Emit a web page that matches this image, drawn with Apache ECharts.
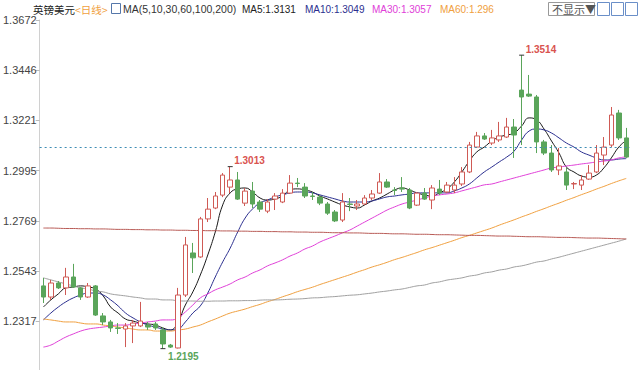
<!DOCTYPE html>
<html><head><meta charset="utf-8">
<script src="https://cdn.jsdelivr.net/npm/echarts@6/dist/echarts.min.js"></script>
<style>html,body{margin:0;padding:0;background:#fff}#c{width:640px;height:370px}</style>
</head><body><div id="c"></div>
<script>
// ---- data ----
const categories = Array.from({length: 79}, (_, i) => 'D' + (i + 1));
const opens = [1.2477,1.2427,1.2490,1.2468,1.2517,1.2468,1.2427,1.2477,1.2342,1.2315,
1.2288,1.2283,1.2297,1.2297,1.2301,1.2306,1.2279,1.2211,1.2198,1.2436,
1.2625,1.2607,1.2778,1.2827,1.2885,1.2921,1.2953,1.2849,1.2903,1.2854,
1.2813,1.2867,1.2854,1.2894,1.2939,1.2921,1.2881,1.2876,1.2845,1.2809,
1.2773,1.2845,1.2836,1.2845,1.2872,1.2894,1.2944,1.2908,1.2917,1.2908,
1.2840,1.2894,1.2863,1.2912,1.2899,1.2908,1.2935,1.2989,1.3101,1.3151,
1.3119,1.3133,1.3146,1.3191,1.3357,1.3339,1.3326,1.3124,1.3074,1.2998,
1.2989,1.2935,1.2930,1.2957,1.2989,1.3065,1.3110,1.3254,1.3142];
const closes = [1.2427,1.2490,1.2468,1.2517,1.2472,1.2427,1.2477,1.2346,1.2315,1.2288,
1.2286,1.2297,1.2310,1.2319,1.2292,1.2288,1.2216,1.2202,1.2436,1.2661,
1.2603,1.2778,1.2822,1.2881,1.2975,1.2953,1.2867,1.2903,1.2845,1.2822,
1.2854,1.2881,1.2894,1.2939,1.2937,1.2881,1.2879,1.2849,1.2804,1.2769,
1.2854,1.2843,1.2845,1.2872,1.2890,1.2944,1.2921,1.2906,1.2912,1.2827,
1.2894,1.2867,1.2917,1.2894,1.2930,1.2930,1.2989,1.3110,1.3151,1.3137,
1.3142,1.3151,1.3191,1.3155,1.3326,1.3330,1.3124,1.3074,1.2998,1.3016,
1.2930,1.2937,1.2953,1.2984,1.3074,1.3101,1.3245,1.3142,1.3056];
const lows = [1.2400,1.2414,1.2463,1.2436,1.2468,1.2414,1.2423,1.2342,1.2301,1.2270,
1.2261,1.2202,1.2220,1.2292,1.2279,1.2279,1.2195,1.2198,1.2196,1.2427,
1.2535,1.2603,1.2764,1.2822,1.2876,1.2894,1.2863,1.2836,1.2827,1.2809,
1.2804,1.2818,1.2849,1.2890,1.2921,1.2872,1.2863,1.2840,1.2796,1.2764,
1.2764,1.2813,1.2818,1.2840,1.2863,1.2890,1.2917,1.2885,1.2899,1.2822,
1.2836,1.2863,1.2822,1.2885,1.2894,1.2894,1.2926,1.2984,1.3097,1.3133,
1.3110,1.3124,1.3142,1.3052,1.3110,1.3326,1.3074,1.3065,1.2989,1.2975,
1.2908,1.2912,1.2908,1.2953,1.2984,1.3020,1.3101,1.3133,1.3052];
const highs = [1.2513,1.2504,1.2499,1.2558,1.2576,1.2472,1.2490,1.2481,1.2355,1.2324,
1.2310,1.2310,1.2324,1.2405,1.2315,1.2315,1.2292,1.2216,1.2468,1.2697,
1.2670,1.2787,1.2872,1.2899,1.2984,1.3013,1.2989,1.2917,1.2944,1.2863,
1.2867,1.2894,1.2912,1.2975,1.2962,1.2939,1.2899,1.2885,1.2854,1.2818,
1.2894,1.2872,1.2863,1.2885,1.2908,1.2984,1.2957,1.2921,1.2966,1.2917,
1.2899,1.2917,1.2930,1.2953,1.2944,1.2966,1.3011,1.3124,1.3169,1.3164,
1.3178,1.3214,1.3232,1.3227,1.3514,1.3425,1.3335,1.3133,1.3110,1.3097,
1.3007,1.2944,1.2975,1.3020,1.3110,1.3146,1.3281,1.3268,1.3187];
const ma5 = [1.2382,1.2414,1.2441,1.2468,1.2472,1.2477,1.2472,1.2463,1.2432,1.2382,
1.2355,1.2328,1.2319,1.2310,1.2306,1.2301,1.2288,1.2279,1.2315,1.2391,
1.2450,1.2526,1.2616,1.2719,1.2841,1.2895,1.2913,1.2917,1.2899,1.2872,
1.2863,1.2868,1.2881,1.2908,1.2913,1.2908,1.2899,1.2881,1.2868,1.2854,
1.2841,1.2832,1.2827,1.2841,1.2859,1.2872,1.2890,1.2908,1.2917,1.2908,
1.2895,1.2886,1.2881,1.2895,1.2913,1.2944,1.2989,1.3038,1.3079,1.3101,
1.3128,1.3146,1.3155,1.3164,1.3196,1.3232,1.3223,1.3182,1.3128,1.3074,
1.3011,1.2989,1.2971,1.2966,1.2975,1.3007,1.3052,1.3101,1.3131];
const ma10 = [1.2324,1.2355,1.2382,1.2405,1.2423,1.2436,1.2445,1.2445,1.2436,1.2414,
1.2387,1.2355,1.2333,1.2315,1.2301,1.2292,1.2283,1.2279,1.2283,1.2315,
1.2355,1.2387,1.2445,1.2517,1.2585,1.2647,1.2719,1.2782,1.2823,1.2850,
1.2863,1.2877,1.2886,1.2895,1.2899,1.2899,1.2895,1.2886,1.2877,1.2868,
1.2859,1.2854,1.2854,1.2854,1.2859,1.2868,1.2877,1.2881,1.2886,1.2890,
1.2895,1.2895,1.2895,1.2895,1.2895,1.2904,1.2917,1.2935,1.2962,1.2989,
1.3011,1.3034,1.3056,1.3083,1.3133,1.3173,1.3182,1.3178,1.3164,1.3142,
1.3119,1.3101,1.3079,1.3065,1.3052,1.3043,1.3043,1.3047,1.3049];
const ma30 = [1.2202,1.2211,1.2229,1.2247,1.2261,1.2274,1.2283,1.2288,1.2292,1.2297,
1.2301,1.2301,1.2306,1.2310,1.2315,1.2319,1.2324,1.2324,1.2333,1.2360,
1.2391,1.2423,1.2441,1.2459,1.2472,1.2486,1.2504,1.2517,1.2535,1.2549,
1.2567,1.2580,1.2594,1.2611,1.2625,1.2643,1.2656,1.2674,1.2688,1.2701,
1.2715,1.2728,1.2746,1.2764,1.2782,1.2800,1.2818,1.2832,1.2845,1.2854,
1.2863,1.2872,1.2881,1.2886,1.2890,1.2895,1.2904,1.2913,1.2922,1.2931,
1.2935,1.2944,1.2953,1.2962,1.2971,1.2980,1.2989,1.2998,1.3007,1.3011,
1.3016,1.3020,1.3025,1.3029,1.3034,1.3038,1.3043,1.3052,1.3057];
const ma60 = [1.2328,1.2324,1.2319,1.2315,1.2315,1.2310,1.2306,1.2306,1.2301,1.2297,
1.2292,1.2288,1.2283,1.2279,1.2279,1.2274,1.2274,1.2274,1.2279,1.2283,
1.2292,1.2301,1.2315,1.2328,1.2342,1.2355,1.2364,1.2373,1.2384,1.2394,
1.2406,1.2416,1.2428,1.2439,1.2451,1.2461,1.2471,1.2483,1.2494,1.2505,
1.2516,1.2527,1.2539,1.2550,1.2562,1.2572,1.2583,1.2595,1.2605,1.2616,
1.2627,1.2639,1.2649,1.2660,1.2671,1.2682,1.2694,1.2704,1.2715,1.2726,
1.2737,1.2750,1.2762,1.2774,1.2787,1.2799,1.2812,1.2824,1.2837,1.2849,
1.2862,1.2874,1.2887,1.2899,1.2912,1.2924,1.2937,1.2949,1.2960];
const ma100 = [1.2513,1.2504,1.2495,1.2486,1.2477,1.2468,1.2463,1.2454,1.2450,1.2441,
1.2436,1.2432,1.2427,1.2423,1.2418,1.2418,1.2414,1.2414,1.2410,1.2409,
1.2409,1.2408,1.2408,1.2409,1.2409,1.2410,1.2410,1.2411,1.2411,1.2413,
1.2414,1.2414,1.2415,1.2417,1.2418,1.2420,1.2423,1.2424,1.2427,1.2429,
1.2432,1.2435,1.2437,1.2441,1.2445,1.2450,1.2454,1.2459,1.2463,1.2470,
1.2477,1.2481,1.2490,1.2495,1.2503,1.2508,1.2513,1.2521,1.2526,1.2535,
1.2540,1.2548,1.2553,1.2562,1.2567,1.2575,1.2584,1.2589,1.2598,1.2606,
1.2615,1.2624,1.2633,1.2642,1.2651,1.2660,1.2669,1.2678,1.2688];
const ma200 = [1.2737,1.2737,1.2736,1.2735,1.2735,1.2734,1.2734,1.2733,1.2733,1.2732,
1.2731,1.2731,1.2730,1.2730,1.2729,1.2729,1.2728,1.2728,1.2727,1.2727,
1.2726,1.2726,1.2725,1.2725,1.2724,1.2724,1.2723,1.2723,1.2722,1.2722,
1.2721,1.2721,1.2720,1.2720,1.2719,1.2719,1.2718,1.2718,1.2717,1.2716,
1.2716,1.2715,1.2715,1.2714,1.2713,1.2713,1.2712,1.2711,1.2711,1.2710,
1.2709,1.2709,1.2708,1.2707,1.2707,1.2706,1.2705,1.2704,1.2704,1.2703,
1.2702,1.2701,1.2701,1.2700,1.2699,1.2698,1.2698,1.2697,1.2696,1.2695,
1.2695,1.2694,1.2693,1.2692,1.2692,1.2691,1.2690,1.2689,1.2688];
const tickValues = [1.2317, 1.2543, 1.2769, 1.2995, 1.3221, 1.3446, 1.3672];
const highMarks = [25, 64];
const lowMarks = [16];
const lastPrice = 1.3064;
const instrument = '英镑美元';
const period = '<日线>';
const maTitle = 'MA(5,10,30,60,100,200)';
const hideText = '不显示▼';

// ---- chart ----
const chart = echarts.init(document.getElementById('c'), null, {renderer: 'svg'});
const ohlc = opens.map((o, i) => [o, closes[i], lows[i], highs[i]]);
const fmt = v => String(parseFloat(v.toFixed(4)));
const cjk = '"Noto Sans CJK SC", "Liberation Sans", sans-serif';
const lat = '"Liberation Sans", Arial, sans-serif';

function maLine(name, data, color) {
  return {name, type: 'line', data, smooth: true, showSymbol: false, symbol: 'none',
    lineStyle: {color, width: 1}, itemStyle: {color}, z: 3, silent: true};
}
const markData = [];
highMarks.forEach(i => markData.push({coord: [i, highs[i]], value: fmt(highs[i]),
  label: {color: '#d9534f', offset: [1.5, -6]}}));
lowMarks.forEach(i => markData.push({coord: [i, lows[i]], value: fmt(lows[i]),
  label: {color: '#5aa55a', offset: [2.5, 8]}}));

const headerItems = [
  {x: 33, text: instrument, fill: '#222', font: '10.5px ' + cjk},
  {x: 75, text: period, fill: '#f0a040', font: '10.5px ' + cjk},
  {x: 123, text: maTitle, fill: '#333', font: '10.5px ' + lat},
  {x: 242, text: 'MA5:' + fmt(ma5[ma5.length - 1]), fill: '#222', font: '10px ' + lat},
  {x: 305, text: 'MA10:' + fmt(ma10[ma10.length - 1]), fill: '#2b2f8f', font: '10px ' + lat},
  {x: 372, text: 'MA30:' + fmt(ma30[ma30.length - 1]), fill: '#e040d8', font: '10px ' + lat},
  {x: 440, text: 'MA60:' + fmt(ma60[ma60.length - 1]), fill: '#f0a040', font: '10px ' + lat}
];

const graphic = headerItems.map(h => ({type: 'text', x: h.x, y: 9,
  style: {text: h.text, fill: h.fill, font: h.font, textVerticalAlign: 'middle'}}));
graphic.push(
  {type: 'rect', shape: {x: 111.5, y: 3.5, width: 9, height: 10}, style: {fill: '#fff', stroke: '#5577aa', lineWidth: 1}},
  {type: 'rect', shape: {x: 548.5, y: 2.5, width: 46, height: 13}, style: {fill: '#fff', stroke: '#999', lineWidth: 1}},
  {type: 'text', x: 552, y: 9, style: {text: hideText, fill: '#555', font: '11px ' + cjk, textVerticalAlign: 'middle'}},
  {type: 'rect', shape: {x: 597.5, y: 2.5, width: 12, height: 13}, style: {fill: '#fff', stroke: '#6a8fc8', lineWidth: 1}},
  {type: 'rect', shape: {x: 611.5, y: 2.5, width: 12, height: 13}, style: {fill: '#fff', stroke: '#6a8fc8', lineWidth: 1}},
  {type: 'rect', shape: {x: 625.5, y: 2.5, width: 12, height: 13}, style: {fill: '#fff', stroke: '#6a8fc8', lineWidth: 1}}
);

chart.setOption({
  animation: false,
  backgroundColor: '#fff',
  grid: {left: 36, right: 10, top: 20, bottom: 0, containLabel: false},
  xAxis: {type: 'category', data: categories, boundaryGap: true,
    axisLine: {show: false}, axisTick: {show: false}, axisLabel: {show: false}, splitLine: {show: false}},
  yAxis: {type: 'value', min: 1.2099, max: 1.3672, scale: true,
    axisLine: {show: true, lineStyle: {color: '#d0d0d0'}},
    axisTick: {show: true, length: 4, customValues: tickValues, lineStyle: {color: '#bbb'}},
    axisLabel: {customValues: tickValues, formatter: v => v.toFixed(4), color: '#444', fontSize: 11, fontFamily: lat, margin: 3},
    splitLine: {show: false}},
  graphic,
  series: [
    {name: 'K', type: 'candlestick', data: ohlc, barWidth: 5, z: 4,
      itemStyle: {color: '#ffffff', color0: '#5aa55a', borderColor: '#cf5a55', borderColor0: '#5aa55a', borderWidth: 1},
      markLine: {silent: true, symbol: 'none', label: {show: false},
        lineStyle: {type: [2, 3], color: '#3d8db5', width: 1}, data: [{yAxis: lastPrice}]},
      markPoint: {silent: true, symbol: 'rect', symbolSize: [5, 1], itemStyle: {color: '#333'},
        label: {show: true, position: 'right', distance: 0, formatter: p => p.value, fontSize: 10, fontWeight: 'bold', fontFamily: lat},
        data: markData}},
    maLine('MA5', ma5, '#1a1a1a'),
    maLine('MA10', ma10, '#2b2f8f'),
    maLine('MA30', ma30, '#e040d8'),
    maLine('MA60', ma60, '#f0a040'),
    maLine('MA100', ma100, '#a0a0a0'),
    maLine('MA200', ma200, '#b85a55')
  ]
});
</script></body></html>
